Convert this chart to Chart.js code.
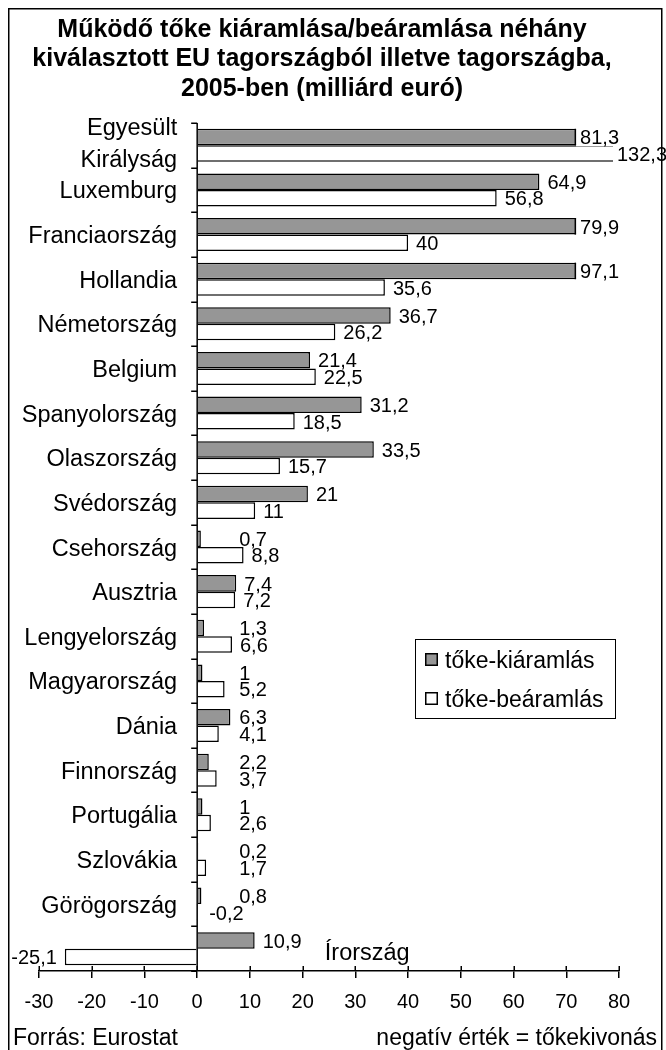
<!DOCTYPE html>
<html><head><meta charset="utf-8">
<script src="https://cdn.jsdelivr.net/npm/chart.js@4.4.1/dist/chart.umd.min.js"></script>
<style>html,body{margin:0;padding:0;background:#fff}#wrap{width:666px;height:1050px;position:relative}canvas{display:block}</style>
</head><body><div id="wrap"><canvas id="c" width="666" height="1050"></canvas></div>
<script>
// ---- data ----
const categories = ['Egyesült\nKirályság','Luxemburg','Franciaország','Hollandia','Németország','Belgium','Spanyolország','Olaszország','Svédország','Csehország','Ausztria','Lengyelország','Magyarország','Dánia','Finnország','Portugália','Szlovákia','Görögország','Írország'];
const outflow = [81.3, 64.9, 79.9, 97.1, 36.7, 21.4, 31.2, 33.5, 21, 0.7, 7.4, 1.3, 1, 6.3, 2.2, 1, 0.2, 0.8, 10.9];
const inflow  = [132.3, 56.8, 40, 35.6, 26.2, 22.5, 18.5, 15.7, 11, 8.8, 7.2, 6.6, 5.2, 4.1, 3.7, 2.6, 1.7, -0.2, -25.1];
const seriesNames = ['tőke-kiáramlás', 'tőke-beáramlás'];
const xMin = -30, xMax = 80, xStep = 10;
const titleLines = ['Működő tőke kiáramlása/beáramlása néhány', 'kiválasztott EU tagországból illetve tagországba,', '2005-ben (milliárd euró)'];
const sourceText = 'Forrás: Eurostat';
const noteText = 'negatív érték = tőkekivonás';

const FONT = '"Liberation Sans", Arial, Helvetica, sans-serif';
const GRAY = '#969696';
const fmt = v => String(v).replace('.', ',');

const overlay = {
  id: 'overlay',
  beforeDraw(chart) {
    const ctx = chart.ctx;
    ctx.save();
    ctx.fillStyle = '#fff';
    ctx.fillRect(0, 0, chart.width, chart.height);
    ctx.restore();
  },
  afterDatasetsDraw(chart) {
    const ctx = chart.ctx, ca = chart.chartArea;
    const xs = chart.scales.x, ys = chart.scales.y;
    const zero = xs.getPixelForValue(0);
    ctx.save();
    // vertical axis at zero with boundary tick marks
    ctx.strokeStyle = '#000';
    ctx.lineWidth = 1.5;
    ctx.beginPath();
    ctx.moveTo(zero, ca.top);
    ctx.lineTo(zero, ca.bottom);
    for (let i = 0; i <= categories.length; i++) {
      const y = Math.round(ys.getPixelForValue(i - 0.5)) + 0.25;
      ctx.moveTo(zero - 6, y);
      ctx.lineTo(zero, y);
    }
    ctx.stroke();
    // cross part of x ticks (above axis)
    ctx.beginPath();
    xs.ticks.forEach(t => {
      const px = Math.round(xs.getPixelForValue(t.value)) + 0.25;
      ctx.moveTo(px, ca.bottom - 5);
      ctx.lineTo(px, ca.bottom);
    });
    ctx.stroke();

    // data labels (white boxed, like the original)
    ctx.font = '20px ' + FONT;
    ctx.textAlign = 'left';
    ctx.textBaseline = 'alphabetic';
    [outflow, inflow].forEach((arr, di) => {
      const meta = chart.getDatasetMeta(di);
      arr.forEach((v, j) => {
        const el = meta.data[j];
        const txt = fmt(v);
        const w = ctx.measureText(txt).width;
        const h = el.height, cy = el.y;
        let tx, clamped = false;
        if (v < 0) {
          if (el.x < zero - w) tx = el.x - 8 - w; else tx = zero + 12;
        } else {
          const end = Math.min(el.x, ca.right);
          tx = Math.max(end + 8, zero + 42);
          const lim = di === 0 ? ca.right - w : ca.right - 2;
          if (tx > lim) { tx = lim; clamped = true; }
        }
        ctx.fillStyle = '#fff';
        if (clamped) ctx.fillRect(tx - 4, cy - h / 2 - 1, w + 6, h + 2);
        else ctx.fillRect(tx - 4, cy - h / 2 + 2, w + 6, h - 4);
        if (clamped && di === 0) {
          ctx.strokeStyle = '#000';
          ctx.lineWidth = 1.5;
          ctx.beginPath();
          ctx.moveTo(tx - 4.75, cy - h / 2);
          ctx.lineTo(tx - 4.75, cy + h / 2);
          ctx.stroke();
        }
        ctx.fillStyle = '#000';
        ctx.fillText(txt, tx, cy + 7.2);
      });
    });
    ctx.restore();
  },
  afterDraw(chart) {
    const ctx = chart.ctx;
    const xs = chart.scales.x, ys = chart.scales.y;
    const zero = xs.getPixelForValue(0);
    ctx.save();
    // frame
    ctx.strokeStyle = '#000';
    ctx.lineWidth = 1.5;
    ctx.strokeRect(8.75, 8.75, 653, 1080);
    // title
    ctx.fillStyle = '#000';
    ctx.font = 'bold 25px ' + FONT;
    ctx.textAlign = 'center';
    ctx.textBaseline = 'alphabetic';
    const tb = [37, 66, 96];
    titleLines.forEach((l, i) => ctx.fillText(l, 322, tb[i]));
    // category labels
    ctx.font = '23.5px ' + FONT;
    categories.forEach((c, i) => {
      const cy = ys.getPixelForValue(i);
      const parts = c.split('\n');
      if (i === categories.length - 1) {
        ctx.textAlign = 'left';
        ctx.fillText(c, xs.getPixelForValue(24.2), cy + 11);
        return;
      }
      ctx.textAlign = 'right';
      if (parts.length === 2) {
        ctx.fillText(parts[0], zero - 20, cy - 18.5 + 8.5);
        ctx.fillText(parts[1], zero - 20, cy + 12.7 + 8.5);
      } else {
        ctx.fillText(c, zero - 20, cy + 8.5);
      }
    });
    // legend
    const lx = 415, ly = 639, lw = 200, lh = 79;
    ctx.lineWidth = 1;
    ctx.strokeStyle = '#000';
    ctx.strokeRect(lx + 0.5, ly + 0.5, lw, lh);
    ctx.font = '23px ' + FONT;
    ctx.textAlign = 'left';
    const fills = [GRAY, '#fff'];
    [660, 699].forEach((yc, i) => {
      ctx.fillStyle = fills[i];
      ctx.fillRect(lx + 10, yc - 7, 13, 13);
      ctx.lineWidth = 1.5;
      ctx.strokeRect(lx + 10.75, yc - 6.25, 11.5, 11.5);
      ctx.fillStyle = '#000';
      ctx.fillText(seriesNames[i], lx + 30, yc + 8);
    });
    // footer
    ctx.font = '23px ' + FONT;
    ctx.textAlign = 'left';
    ctx.fillText(sourceText, 13, 1045);
    ctx.textAlign = 'right';
    ctx.fillText(noteText, 657, 1045);
    ctx.restore();
  }
};

new Chart(document.getElementById('c'), {
  type: 'bar',
  data: {
    labels: categories,
    datasets: [
      { label: seriesNames[0], data: outflow, backgroundColor: GRAY, borderColor: '#000', borderWidth: 1.5 },
      { label: seriesNames[1], data: inflow, backgroundColor: '#fff', borderColor: '#000', borderWidth: 1.5 }
    ]
  },
  options: {
    responsive: false,
    animation: false,
    devicePixelRatio: 1,
    indexAxis: 'y',
    layout: { padding: { left: 39, right: 47, top: 123, bottom: 34 } },
    datasets: { bar: { categoryPercentage: 0.74, barPercentage: 1.0 } },
    plugins: { legend: { display: false }, title: { display: false }, tooltip: { enabled: false } },
    scales: {
      x: {
        type: 'linear', min: xMin, max: xMax, position: 'bottom',
        ticks: { stepSize: xStep, color: '#000', font: { family: FONT, size: 20 }, padding: 12, maxRotation: 0, autoSkip: false },
        grid: { drawOnChartArea: false, drawTicks: true, tickLength: 7, color: '#000', lineWidth: 1.5 },
        border: { display: true, color: '#000', width: 1.5 },
        afterFit: s => { s.height = 45; }
      },
      y: { type: 'category', display: false, offset: true }
    }
  },
  plugins: [overlay]
});
</script>
</body></html>
